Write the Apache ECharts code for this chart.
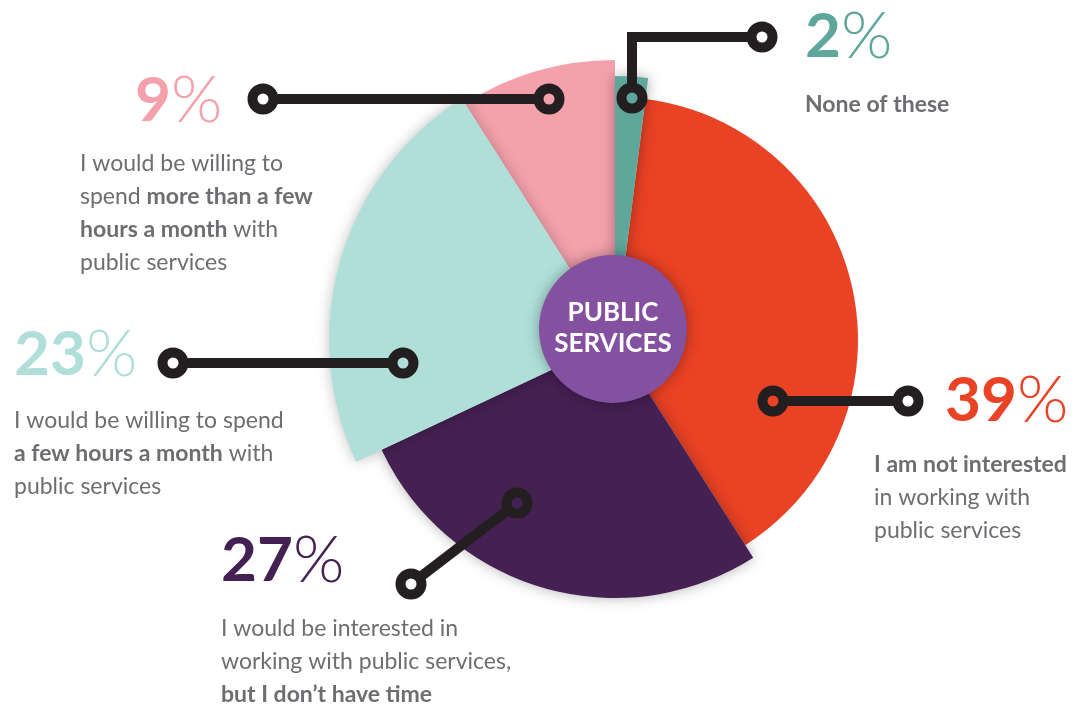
<!DOCTYPE html>
<html><head><meta charset="utf-8">
<script src="https://cdn.jsdelivr.net/npm/echarts@6/dist/echarts.min.js"></script>
<style>html,body{margin:0;padding:0;background:#fff}#c{width:1083px;height:704px}</style>
</head><body><div id="c"></div>
<script>
// ---- data ----
const categories = ['None of these', 'I am not interested', 'Interested but no time', 'A few hours a month', 'More than a few hours a month'];
const values = [2, 39, 27, 23, 9];
const centerTitle = ['PUBLIC', 'SERVICES'];
const descriptions = [
  ['{b|None of these}'],
  ['{b|I am not interested}', 'in working with', 'public services'],
  ['I would be interested in', 'working with public services,', '{b|but I don\u2019t have time}'],
  ['I would be willing to spend', '{b|a few hours a month} with', 'public services'],
  ['I would be willing to', 'spend {b|more than a few}', '{b|hours a month} with', 'public services']
];

// ---- style / layout ----
const colors = ['#5fa69b', '#ea4225', '#452052', '#b0dfda', '#f4a1ac'];
const radii = [264, 243, 258, 286, 280];
const shadows = [0.35, 0, 0.3, 0.25, 0];
const drawOrder = [1, 4, 2, 3, 0];
const CX = 615, CY = 340;
const FONT = 'Lato, "Noto Sans", sans-serif';
const TXT = '#6d6e71';
const DARK = '#231f20';
const layout = [
  { px: 805, py: 37, dx: 805, dy: 104, conn: [[632, 98], [632, 37], [762, 37]] },
  { px: 945, py: 401, dx: 874, dy: 464, conn: [[773, 401], [908, 401]] },
  { px: 221, py: 561, dx: 221, dy: 628, conn: [[517, 503], [411, 584]] },
  { px: 14, py: 355, dx: 14, dy: 420, conn: [[173, 363], [403, 363]] },
  { px: 135, py: 101, dx: 80, dy: 163, conn: [[263, 99], [549, 99]] }
];
const LH = 33, RING_R = 10.5, RING_W = 10, FS = 23;

const series = drawOrder.map(i => ({
  type: 'pie',
  center: [CX, CY],
  radius: [0, radii[i]],
  startAngle: 90,
  clockwise: true,
  silent: true,
  animation: false,
  label: { show: false },
  labelLine: { show: false },
  z: 2,
  data: values.map((v, j) => ({
    name: categories[j],
    value: v,
    itemStyle: j === i
      ? { color: colors[i], borderWidth: 0, shadowBlur: shadows[i] ? 14 : 0, shadowColor: 'rgba(0,0,0,' + shadows[i] + ')' }
      : { color: 'rgba(0,0,0,0)', borderWidth: 0 }
  }))
}));

const graphics = [];
graphics.push({
  type: 'circle', z: 10,
  shape: { cx: 613, cy: 329, r: 74 },
  style: { fill: '#8450a0', shadowBlur: 14, shadowColor: 'rgba(0,0,0,0.35)' }
});
graphics.push({
  type: 'text', z: 11,
  style: {
    text: centerTitle.join('\n'), x: 613, y: 328, align: 'center', verticalAlign: 'middle',
    fill: '#fff', font: 'bold 26px ' + FONT, lineHeight: 31
  }
});

values.forEach((v, i) => {
  const L = layout[i];
  const pts = L.conn.map(p => p.slice());
  const shorten = (a, b) => {
    const dx = b[0] - a[0], dy = b[1] - a[1], d = Math.hypot(dx, dy);
    return [a[0] + dx / d * (RING_R + RING_W / 2 - 1), a[1] + dy / d * (RING_R + RING_W / 2 - 1)];
  };
  pts[0] = shorten(L.conn[0], L.conn[1]);
  const n = pts.length;
  pts[n - 1] = shorten(L.conn[n - 1], L.conn[n - 2]);
  graphics.push({
    type: 'polyline', z: 12,
    shape: { points: pts },
    style: { stroke: DARK, lineWidth: RING_W, fill: null, lineJoin: 'miter' }
  });
  [L.conn[0], L.conn[n - 1]].forEach(p => {
    graphics.push({
      type: 'circle', z: 13,
      shape: { cx: p[0], cy: p[1], r: RING_R },
      style: { stroke: DARK, lineWidth: RING_W, fill: null }
    });
  });
  graphics.push({
    type: 'text', z: 12,
    style: {
      text: '{n|' + v + '}{p|%}', x: L.px, y: L.py, verticalAlign: 'middle',
      rich: {
        n: { fontFamily: FONT, fontWeight: 'bold', fontSize: 62, fill: colors[i], color: colors[i] },
        p: { fontFamily: FONT, fontWeight: 300, fontSize: 66, fill: colors[i], color: colors[i] }
      }
    }
  });
  graphics.push({
    type: 'text', z: 12,
    style: {
      text: descriptions[i].join('\n'), x: L.dx, y: L.dy - LH / 2 + 1, verticalAlign: 'top',
      font: FS + 'px ' + FONT, fill: TXT, lineHeight: LH,
      rich: {
        b: { fontFamily: FONT, fontWeight: 'bold', fontSize: FS, fill: TXT, color: TXT, lineHeight: LH }
      }
    }
  });
});

const chart = echarts.init(document.getElementById('c'), null, { renderer: 'canvas' });
chart.setOption({
  animation: false,
  backgroundColor: '#fff',
  series: series,
  graphic: { elements: graphics }
});
</script>
</body></html>
